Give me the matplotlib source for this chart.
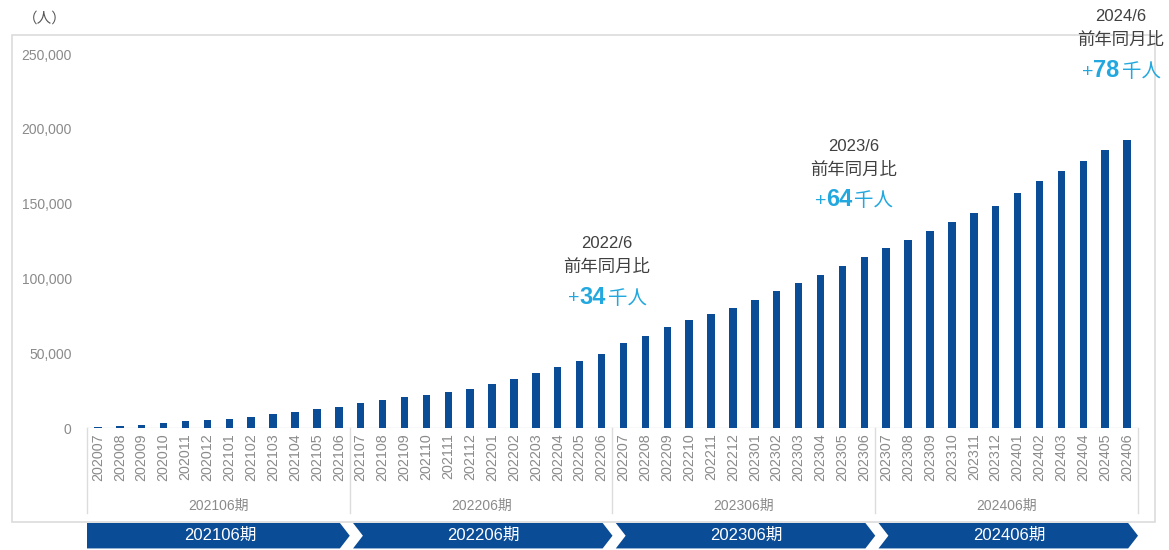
import matplotlib.pyplot as plt
from matplotlib.patches import Polygon, Rectangle
from matplotlib.ticker import FuncFormatter, MultipleLocator
from matplotlib import transforms

FONT = ['Liberation Sans', 'Noto Sans CJK JP']
plt.rcParams['font.family'] = FONT

months = ['202007', '202008', '202009', '202010', '202011', '202012',
          '202101', '202102', '202103', '202104', '202105', '202106',
          '202107', '202108', '202109', '202110', '202111', '202112',
          '202201', '202202', '202203', '202204', '202205', '202206',
          '202207', '202208', '202209', '202210', '202211', '202212',
          '202301', '202302', '202303', '202304', '202305', '202306',
          '202307', '202308', '202309', '202310', '202311', '202312',
          '202401', '202402', '202403', '202404', '202405', '202406']
users = [500, 1300, 2200, 3300, 4400, 5100,
         6000, 7100, 9400, 10900, 12500, 14300,
         16500, 18500, 20500, 22000, 24300, 26300,
         29700, 33000, 36800, 40600, 44900, 49200,
         56600, 61800, 67600, 72000, 75900, 79900,
         85700, 91800, 97100, 102000, 108500, 114300,
         120200, 125900, 131900, 137500, 143500, 148600,
         156900, 164900, 172100, 178600, 185700, 192800]
periods = ['202106期', '202206期', '202306期', '202406期']
ann_dates = ['2022/6', '2023/6', '2024/6']
ann_gain = ['34', '64', '78']   # 千人, YoY
ann_month = ['202206', '202306', '202406']

BAR = '#0b4c97'
GRAY = '#8a8a8a'
LINE = '#dcdcdc'
CYAN = '#22a8de'

fig = plt.figure(figsize=(11.69, 5.5), dpi=100)
fig.add_artist(Rectangle((12 / 1169, 1 - 522 / 550), 1143 / 1169, 487 / 550,
                         transform=fig.transFigure, fill=False,
                         edgecolor=LINE, lw=1.2, zorder=0))
ax = fig.add_axes([87 / 1169, 1 - 428 / 550, 1051 / 1169, 374 / 550])
ax.patch.set_alpha(0)

x = list(range(len(months)))
ax.bar(x, users, width=0.34, color=BAR, zorder=3)
ax.set_xlim(-0.5, len(months) - 0.5)
ax.set_ylim(0, 250000)
for s in ax.spines.values():
    s.set_visible(False)

ax.yaxis.set_major_locator(MultipleLocator(50000))
ax.yaxis.set_major_formatter(FuncFormatter(lambda v, p: f'{int(v):,}'))
ax.tick_params(axis='y', length=0, pad=11, labelsize=10, labelcolor=GRAY)
ax.set_xticks(x)
ax.set_xticklabels(months, rotation=90, fontsize=10.3, color=GRAY)
ax.tick_params(axis='x', length=0, pad=4)

ax.axhline(0, color=LINE, lw=1, zorder=2)

# period separators and labels under the month ticks
trans = transforms.blended_transform_factory(ax.transData, ax.transAxes)
n = 12
for g, name in enumerate(periods):
    left = g * n - 0.5
    right = left + n
    ax.plot([left, left], [0, -0.228], transform=trans, color=LINE, lw=1,
            clip_on=False)
    ax.text((left + right) / 2, -0.208, name, transform=trans, ha='center',
            va='center', fontsize=10, color=GRAY)
    # chevron band
    top, bot, tip, gap = -0.254, -0.322, 0.45, 0.15
    mid = (top + bot) / 2
    if g == 0:
        pts = [(left, top), (right - tip, top), (right, mid),
               (right - tip, bot), (left, bot)]
    else:
        pts = [(left + gap, top), (right - tip, top), (right, mid),
               (right - tip, bot), (left + gap, bot), (left + gap + tip, mid)]
    ax.add_patch(Polygon(pts, closed=True, transform=trans, color=BAR,
                         clip_on=False, lw=0))
    ax.text((left + right) / 2 + 0.1, mid, name, transform=trans,
            ha='center', va='center', fontsize=12, color='white')
ax.plot([len(months) - 0.5] * 2, [0, -0.228], transform=trans, color=LINE,
        lw=1, clip_on=False)

# YoY annotations
offsets = [0.25, -0.5, -0.3]
lifts = [0, 0, 8000]
for date, gain, m, dx, dy in zip(ann_dates, ann_gain, ann_month, offsets, lifts):
    i = months.index(m)
    v = users[i] + dy
    cx = i + dx
    ax.text(cx, v + 74000, date, ha='center', va='center', fontsize=12,
            color='#404040', clip_on=False)
    ax.text(cx, v + 58500, '前年同月比', ha='center', va='center',
            fontsize=12.5, color='#404040', clip_on=False)
    t = ax.text(cx - 0.05, v + 34000, gain, ha='right', va='baseline',
                fontsize=17, fontweight='bold', color=CYAN, clip_on=False)
    ax.text(cx + 0.05, v + 34000, '千人', ha='left', va='baseline',
            fontsize=14, color=CYAN, clip_on=False)
    ax.annotate('+', xy=(0, 0.42), xycoords=t, ha='right', va='center',
                fontsize=14, color=CYAN, annotation_clip=False)

fig.text(45 / 1169, 1 - 19 / 550, '（人）', ha='center', va='center',
         fontsize=10.5, color='#555555',
         family=['Noto Sans CJK JP', 'Liberation Sans'])

fig.savefig('out.png', dpi=100)
